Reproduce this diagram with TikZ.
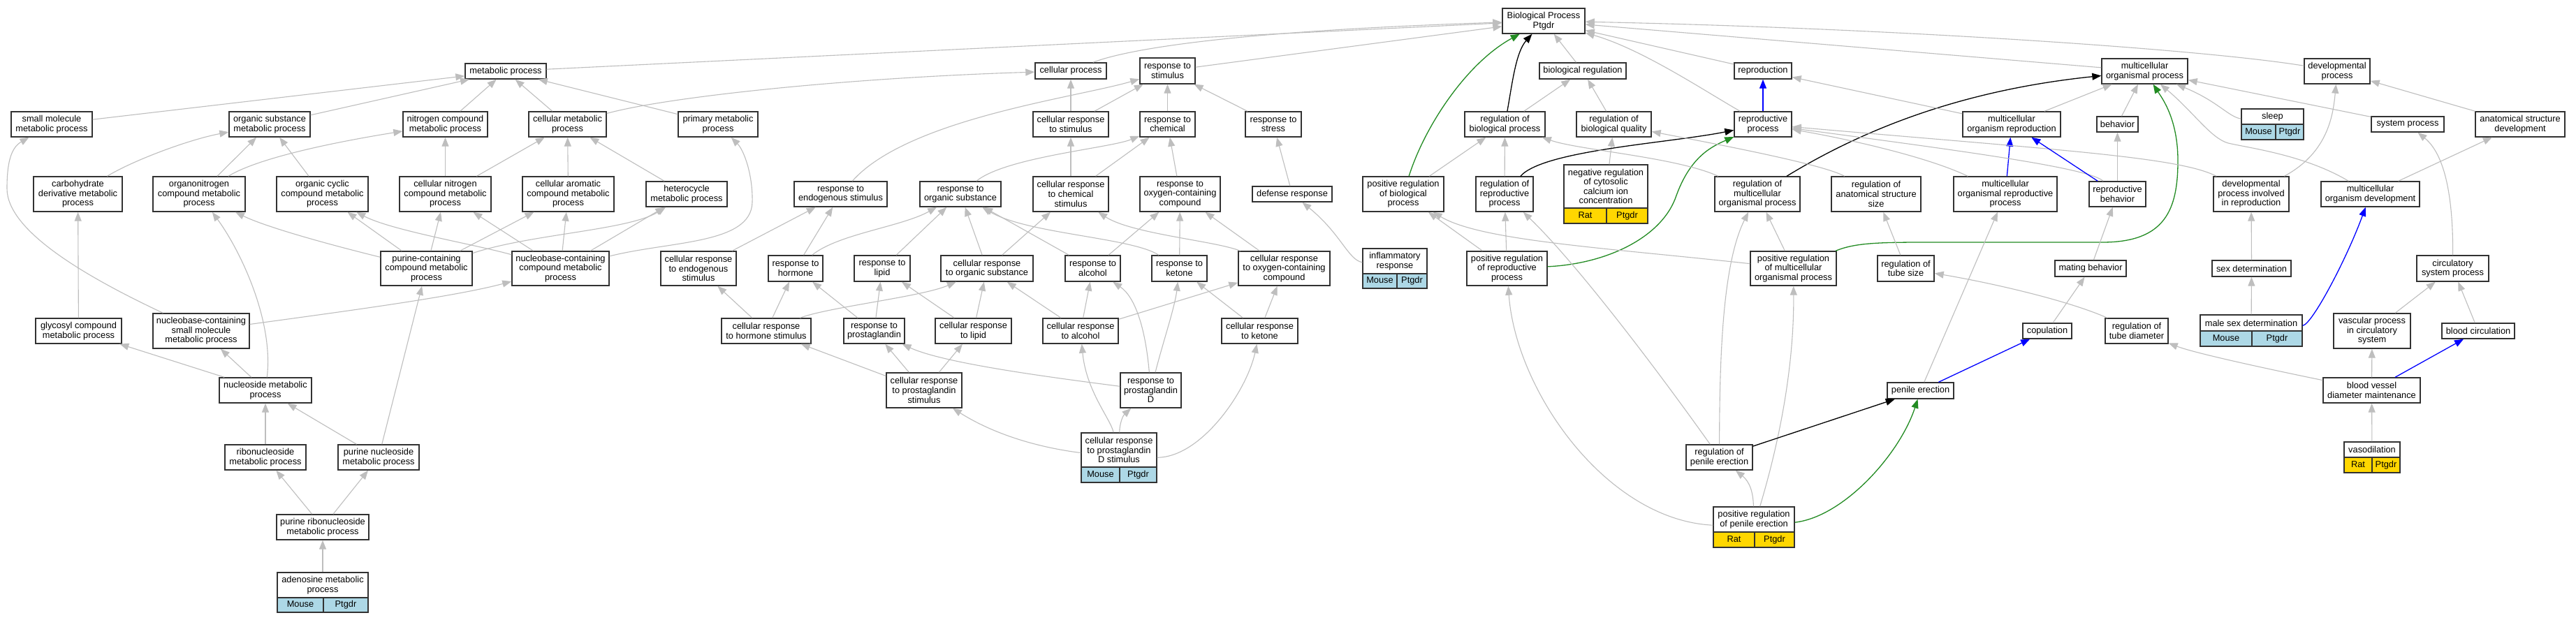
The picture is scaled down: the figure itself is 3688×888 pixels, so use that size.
\documentclass[tikz,border=0pt]{standalone}
\usepackage{fontspec}
\setmainfont{Liberation Sans}
\usetikzlibrary{arrows.meta}
\definecolor{edgec}{RGB}{190,190,190}
\definecolor{boxc}{RGB}{50,50,50}
\definecolor{greenc}{RGB}{34,139,34}
\definecolor{bluec}{RGB}{0,0,255}
\definecolor{Mouse}{RGB}{173,216,230}
\definecolor{Rat}{RGB}{255,215,0}
\newcommand{\lblfont}{\fontsize{12.8pt}{13.6pt}\selectfont}
\tikzset{
  box/.style={draw=boxc, line width=1.4pt, fill=white, inner sep=0pt, align=center, font=\lblfont},
  lbl/.style={inner sep=0pt, align=center, font=\lblfont},
  cell/.style={text height=9.2pt, text depth=2.8pt},
  divl/.style={draw=boxc, line width=1.4pt},
  e/.style={draw=edgec, line width=1.1pt, -{Triangle[length=13pt,width=10pt]}},
  eblk/.style={draw=black, line width=1.3pt, -{Triangle[length=13pt,width=10pt]}},
  egrn/.style={draw=greenc, line width=1.3pt, -{Triangle[length=13pt,width=10pt]}},
  eblu/.style={draw=bluec, line width=1.3pt, -{Triangle[length=13pt,width=10pt]}}
}
\newcommand{\gonode}[6]{%
  \pgfmathsetmacro\gow{#4-#2}\pgfmathsetmacro\goh{#5-#3}%
  \pgfmathsetmacro\gox{(#2+#4)/2}\pgfmathsetmacro\goy{(#3+#5)/2}%
  \node[box, minimum width=\gow pt, minimum height=\goh pt] (#1) at (\gox,\goy) {#6};}
\newcommand{\goann}[9]{%
  \pgfmathsetmacro\gow{#4-#2}\pgfmathsetmacro\goh{#5-#3}%
  \pgfmathsetmacro\gox{(#2+#4)/2}\pgfmathsetmacro\goy{(#3+#5)/2}%
  \pgfmathsetmacro\goty{(#3+#6)/2}\pgfmathsetmacro\gosy{(#6+#5)/2}%
  \pgfmathsetmacro\goax{(#2+#7)/2}\pgfmathsetmacro\gobx{(#7+#4)/2}%
  \fill[white] (#2,#3) rectangle (#4,#6);
  \fill[#9] (#2,#6) rectangle (#4,#5);
  \node[box, fill=none, minimum width=\gow pt, minimum height=\goh pt] (#1) at (\gox,\goy) {};
  \draw[divl] (#2,#6) -- (#4,#6) (#7,#6) -- (#7,#5);
  \node[lbl] (#1-t) at (\gox,\goty) {#8};
  \node[lbl, cell] (#1-s) at (\goax,\gosy) {#9};
  \node[lbl, cell] (#1-g) at (\gobx,\gosy) {Ptgdr};}
\begin{document}
\begin{tikzpicture}[x=1pt,y=-1pt]
\fill[white] (0,0) rectangle (3688,888);
\useasboundingbox (0,0) rectangle (3688,888);
% ---------- metabolic nodes
\gonode{mp}{666}{91}{782}{113}{metabolic process}
\gonode{smmp}{16}{160}{132}{196}{small molecule\\metabolic process}
\gonode{osmp}{328}{160}{444}{196}{organic substance\\metabolic process}
\gonode{ncmp}{577}{160}{698}{196}{nitrogen compound\\metabolic process}
\gonode{cmp}{757}{160}{868}{196}{cellular metabolic\\process}
\gonode{pmp}{971}{160}{1085}{196}{primary metabolic\\process}
\gonode{cdmp}{48}{253}{175}{303}{carbohydrate\\derivative metabolic\\process}
\gonode{oncmp}{219}{253}{351}{303}{organonitrogen\\compound metabolic\\process}
\gonode{occmp}{396}{253}{527}{303}{organic cyclic\\compound metabolic\\process}
\gonode{cncmp}{572}{253}{703}{303}{cellular nitrogen\\compound metabolic\\process}
\gonode{cacmp}{748}{253}{879}{303}{cellular aromatic\\compound metabolic\\process}
\gonode{hmp}{925}{260}{1041}{296}{heterocycle\\metabolic process}
\gonode{pccmp}{545}{360}{676}{409}{purine-containing\\compound metabolic\\process}
\gonode{nbccmp}{733}{360}{872}{409}{nucleobase-containing\\compound metabolic\\process}
\gonode{gcmp}{51}{456}{174}{492}{glycosyl compound\\metabolic process}
\gonode{nbsmmp}{219}{449}{357}{499}{nucleobase-containing\\small molecule\\metabolic process}
\gonode{nsmp}{314}{541}{446}{577}{nucleoside metabolic\\process}
\gonode{rnmp}{322}{637}{438}{673}{ribonucleoside\\metabolic process}
\gonode{pnmp}{484}{637}{600}{673}{purine nucleoside\\metabolic process}
\gonode{prnmp}{396}{737}{528}{773}{purine ribonucleoside\\metabolic process}
\goann{admp}{397}{820}{527}{877}{856}{463}{adenosine metabolic\\process}{Mouse}
% ---------- response nodes
\gonode{cp}{1482}{90}{1584}{113}{cellular process}
\gonode{rs}{1632}{83}{1711}{120}{response to\\stimulus}
\gonode{crs}{1479}{160}{1587}{196}{cellular response\\to stimulus}
\gonode{rc}{1632}{160}{1711}{196}{response to\\chemical}
\gonode{rst}{1783}{160}{1863}{196}{response to\\stress}
\gonode{crcs}{1479}{253}{1587}{303}{cellular response\\to chemical\\stimulus}
\gonode{roc}{1632}{253}{1747}{303}{response to\\oxygen-containing\\compound}
\gonode{dr}{1793}{267}{1907}{289}{defense response}
\gonode{res}{1137}{260}{1270}{296}{response to\\endogenous stimulus}
\gonode{ros}{1317}{260}{1433}{296}{response to\\organic substance}
\gonode{cres}{946}{360}{1054}{409}{cellular response\\to endogenous\\stimulus}
\gonode{rh}{1100}{366}{1178}{403}{response to\\hormone}
\gonode{rl}{1223}{366}{1303}{403}{response to\\lipid}
\gonode{cros}{1347}{366}{1479}{403}{cellular response\\to organic substance}
\gonode{ra}{1525}{366}{1604}{403}{response to\\alcohol}
\gonode{rk}{1649}{366}{1728}{403}{response to\\ketone}
\gonode{croc}{1773}{360}{1904}{409}{cellular response\\to oxygen-containing\\compound}
\goann{ir}{1951}{356}{2043}{413}{392}{2000}{inflammatory\\response}{Mouse}
\gonode{crhs}{1033}{456}{1161}{492}{cellular response\\to hormone stimulus}
\gonode{rp}{1208}{456}{1295}{492}{response to\\prostaglandin}
\gonode{crl}{1339}{456}{1448}{492}{cellular response\\to lipid}
\gonode{cra}{1493}{456}{1601}{492}{cellular response\\to alcohol}
\gonode{crk}{1749}{456}{1858}{492}{cellular response\\to ketone}
\gonode{crps}{1269}{534}{1377}{584}{cellular response\\to prostaglandin\\stimulus}
\gonode{rpd}{1604}{534}{1691}{584}{response to\\prostaglandin\\D}
\goann{crpds}{1548}{620}{1656}{691}{669}{1603}{cellular response\\to prostaglandin\\D stimulus}{Mouse}
% ---------- right nodes
\gonode{bp}{2151}{12}{2269}{48}{Biological Process\\Ptgdr}
\gonode{breg}{2204}{90}{2328}{113}{biological regulation}
\gonode{repro}{2483}{90}{2565}{113}{reproduction}
\gonode{rbp}{2097}{160}{2212}{196}{regulation of\\biological process}
\gonode{rbq}{2257}{160}{2364}{196}{regulation of\\biological quality}
\gonode{rproc}{2483}{160}{2565}{196}{reproductive\\process}
\gonode{mor}{2810}{160}{2950}{196}{multicellular\\organism reproduction}
\gonode{prbp}{1951}{253}{2067}{303}{positive regulation\\of biological\\process}
\gonode{rrp}{2113}{253}{2195}{303}{regulation of\\reproductive\\process}
\goann{nrcc}{2239}{236}{2359}{320}{298}{2300}{negative regulation\\of cytosolic\\calcium ion\\concentration}{Rat}
\gonode{rmop}{2455}{253}{2577}{303}{regulation of\\multicellular\\organismal process}
\gonode{rass}{2622}{253}{2750}{303}{regulation of\\anatomical structure\\size}
\gonode{morp}{2797}{253}{2945}{303}{multicellular\\organismal reproductive\\process}
\gonode{prrp}{2100}{360}{2215}{409}{positive regulation\\of reproductive\\process}
\gonode{prmop}{2506}{360}{2629}{409}{positive regulation\\of multicellular\\organismal process}
\gonode{rts}{2688}{366}{2769}{403}{regulation of\\tube size}
\gonode{pe}{2702}{548}{2797}{571}{penile erection}
\gonode{cop}{2896}{463}{2966}{485}{copulation}
\gonode{rpe}{2414}{637}{2509}{673}{regulation of\\penile erection}
\goann{prpe}{2453}{726}{2569}{784}{762}{2512}{positive regulation\\of penile erection}{Rat}
\gonode{mop}{3009}{84}{3132}{120}{multicellular\\organismal process}
\gonode{dp}{3299}{84}{3393}{120}{developmental\\process}
\gonode{beh}{3002}{167}{3061}{189}{behavior}
\goann{sleep}{3209}{156}{3298}{200}{178}{3258}{sleep}{Mouse}
\gonode{sp}{3395}{167}{3499}{189}{system process}
\gonode{asd}{3544}{160}{3672}{196}{anatomical structure\\development}
\gonode{rb}{2991}{260}{3072}{296}{reproductive\\behavior}
\gonode{dpir}{3169}{253}{3277}{303}{developmental\\process involved\\in reproduction}
\gonode{mod}{3323}{260}{3464}{296}{multicellular\\organism development}
\gonode{mb}{2942}{373}{3044}{396}{mating behavior}
\gonode{sd}{3167}{373}{3280}{396}{sex determination}
\gonode{csp}{3460}{366}{3563}{403}{circulatory\\system process}
\gonode{rtd}{3014}{456}{3104}{492}{regulation of\\tube diameter}
\goann{msd}{3150}{451}{3296}{496}{474}{3224}{male sex determination}{Mouse}
\gonode{vpcs}{3341}{449}{3451}{499}{vascular process\\in circulatory\\system}
\gonode{bc}{3496}{463}{3600}{485}{blood circulation}
\gonode{bvdm}{3326}{541}{3465}{577}{blood vessel\\diameter maintenance}
\goann{vaso}{3356}{633}{3436}{677}{655}{3396}{vasodilation}{Rat}
% ---------- metabolic edges
\draw[e] (smmp) -- (mp);
\draw[e] (osmp) -- (mp);
\draw[e] (ncmp) -- (mp);
\draw[e] (cmp) -- (mp);
\draw[e] (pmp) -- (mp);
\draw[e] (mp) -- (bp);
\draw[e] (cmp) .. controls (950,140) and (1200,112) .. (cp);
\draw[e] (cdmp) .. controls (190,230) and (270,200) .. (osmp);
\draw[e] (oncmp) -- (osmp);
\draw[e] (oncmp) .. controls (360,232) and (440,210) .. (ncmp);
\draw[e] (occmp) -- (osmp);
\draw[e] (cncmp) -- (ncmp);
\draw[e] (cncmp) -- (cmp);
\draw[e] (cacmp) -- (cmp);
\draw[e] (hmp) -- (cmp);
\draw[e] (pccmp) .. controls (470,350) and (380,325) .. (oncmp);
\draw[e] (pccmp) -- (occmp);
\draw[e] (pccmp) -- (cncmp);
\draw[e] (pccmp) -- (cacmp);
\draw[e] (pccmp) .. controls (760,335) and (900,330) .. (hmp);
\draw[e] (nbccmp) -- (cncmp);
\draw[e] (nbccmp) .. controls (680,350) and (560,330) .. (occmp);
\draw[e] (nbccmp) -- (cacmp);
\draw[e] (nbccmp) -- (hmp);
\draw[e] (nbccmp) .. controls (960,345) and (1075,350) .. (1077,290) .. controls (1078,250) and (1065,215) .. (pmp);
\draw[e] (nbsmmp) .. controls (500,445) and (650,425) .. (nbccmp);
\draw[e] (nsmp) .. controls (392,460) and (345,360) .. (oncmp);
\draw[e] (gcmp) -- (cdmp);
\draw[e] (nbsmmp) .. controls (120,395) and (10,330) .. (10,270) .. controls (10,235) and (15,212) .. (smmp);
\draw[e] (nsmp) -- (gcmp);
\draw[e] (nsmp) -- (nbsmmp);
\draw[e] (rnmp) -- (nsmp);
\draw[e] (pnmp) -- (nsmp);
\draw[e] (pnmp) -- (pccmp);
\draw[e] (prnmp) -- (rnmp);
\draw[e] (prnmp) -- (pnmp);
\draw[e] (admp) -- (prnmp);
% ---------- response edges
\draw[e] (cp) .. controls (1610,72) and (1750,45) .. (bp);
\draw[e] (rs) -- (bp);
\draw[e] (crs) -- (cp);
\draw[e] (crs) -- (rs);
\draw[e] (rc) -- (rs);
\draw[e] (rst) -- (rs);
\draw[e] (res) .. controls (1300,170) and (1540,140) .. (rs);
\draw[e] (ros) .. controls (1440,225) and (1590,212) .. (rc);
\draw[e] (crcs) -- (crs);
\draw[e] (crcs) -- (rc);
\draw[e] (roc) -- (rc);
\draw[e] (dr) -- (rst);
\draw[e] (ir) .. controls (1930,372) and (1920,335) .. (dr);
\draw[e] (cres) -- (res);
\draw[e] (rh) -- (res);
\draw[e] (rh) .. controls (1200,335) and (1290,325) .. (ros);
\draw[e] (rl) -- (ros);
\draw[e] (cros) -- (ros);
\draw[e] (cros) -- (crcs);
\draw[e] (ra) -- (ros);
\draw[e] (rk) .. controls (1620,340) and (1470,335) .. (ros);
\draw[e] (ra) -- (roc);
\draw[e] (rk) -- (roc);
\draw[e] (croc) -- (roc);
\draw[e] (croc) .. controls (1740,345) and (1620,335) .. (crcs);
\draw[e] (crhs) -- (cres);
\draw[e] (crhs) -- (rh);
\draw[e] (crhs) .. controls (1185,440) and (1320,425) .. (cros);
\draw[e] (rp) -- (rh);
\draw[e] (rp) -- (rl);
\draw[e] (crl) -- (rl);
\draw[e] (crl) -- (cros);
\draw[e] (cra) -- (cros);
\draw[e] (cra) -- (ra);
\draw[e] (cra) -- (croc);
\draw[e] (rpd) .. controls (1640,470) and (1625,425) .. (ra);
\draw[e] (rpd) .. controls (1665,490) and (1682,440) .. (rk);
\draw[e] (rpd) .. controls (1500,540) and (1350,520) .. (rp);
\draw[e] (crk) -- (rk);
\draw[e] (crk) -- (croc);
\draw[e] (crps) -- (crhs);
\draw[e] (crps) -- (rp);
\draw[e] (crps) -- (crl);
\draw[e] (crpds) .. controls (1603,605) and (1608,595) .. (rpd);
\draw[e] (crpds) .. controls (1590,600) and (1555,560) .. (cra);
\draw[e] (crpds) .. controls (1480,640) and (1420,620) .. (crps);
\draw[e] (crpds) .. controls (1720,655) and (1785,560) .. (crk);
% ---------- right edges
\draw[eblk] (rbp) .. controls (2165,120) and (2170,75) .. (bp);
\draw[egrn] (prbp) .. controls (2040,180) and (2100,90) .. (bp);
\draw[e] (prbp) -- (rbp);
\draw[e] (rbp) -- (breg);
\draw[e] (breg) -- (bp);
\draw[e] (rbq) -- (breg);
\draw[e] (nrcc) -- (rbq);
\draw[e] (rrp) -- (rbp);
\draw[eblk] (rrp) .. controls (2210,215) and (2390,205) .. (rproc);
\draw[e] (prrp) -- (rrp);
\draw[e] (prrp) -- (prbp);
\draw[egrn] (prrp) .. controls (2300,378) and (2380,340) .. (2400,280) .. controls (2420,225) and (2450,210) .. (rproc);
\draw[e] (rmop) .. controls (2400,225) and (2260,215) .. (rbp);
\draw[e] (prmop) -- (rmop);
\draw[e] (prmop) .. controls (2300,355) and (2120,345) .. (prbp);
\draw[egrn] (prmop) .. controls (2660,346) and (2700,347) .. (2800,347) -- (3010,347) .. controls (3100,347) and (3118,300) .. (3118,230) .. controls (3118,170) and (3095,140) .. (mop);
\draw[e] (rpe) .. controls (2380,540) and (2260,380) .. (rrp);
\draw[e] (rpe) .. controls (2462,520) and (2465,380) .. (rmop);
\draw[e] (prpe) .. controls (2510,705) and (2505,690) .. (rpe);
\draw[e] (prpe) .. controls (2530,690) and (2569,560) .. (prmop);
\draw[e] (prpe) .. controls (2300,745) and (2170,560) .. (prrp);
\draw[egrn] (prpe) .. controls (2640,740) and (2720,650) .. (pe);
\draw[eblk] (rpe) -- (pe);
\draw[eblu] (pe) -- (cop);
\draw[e] (pe) -- (morp);
\draw[eblk] (rmop) .. controls (2660,190) and (2800,130) .. (mop);
\draw[e] (rass) .. controls (2610,235) and (2450,205) .. (rbq);
\draw[e] (rts) -- (rass);
\draw[e] (rtd) .. controls (2960,430) and (2850,405) .. (rts);
\draw[e] (bvdm) .. controls (3230,525) and (3140,505) .. (rtd);
\draw[eblu] (rproc) -- (repro);
\draw[e] (rproc) .. controls (2440,130) and (2350,70) .. (bp);
\draw[e] (repro) -- (bp);
\draw[e] (mor) -- (repro);
\draw[e] (mor) -- (mop);
\draw[eblu] (morp) -- (mor);
\draw[e] (morp) .. controls (2760,225) and (2650,200) .. (rproc);
\draw[e] (dpir) .. controls (3120,225) and (2950,215) .. (rproc);
\draw[e] (rb) .. controls (2990,240) and (2800,215) .. (rproc);
\draw[eblu] (rb) -- (mor);
\draw[e] (rb) -- (beh);
\draw[e] (mb) -- (rb);
\draw[e] (cop) -- (mb);
\draw[e] (beh) -- (mop);
\draw[e] (sleep) .. controls (3190,167) and (3175,145) .. (mop);
\draw[e] (mod) .. controls (3300,222) and (3220,212) .. (3190,205) .. controls (3165,198) and (3140,160) .. (mop);
\draw[e] (mod) -- (asd);
\draw[e] (asd) -- (dp);
\draw[e] (dpir) .. controls (3330,220) and (3340,170) .. (dp);
\draw[e] (sd) -- (dpir);
\draw[e] (msd) -- (sd);
\draw[eblu] (msd) .. controls (3310,465) and (3360,370) .. (mod);
\draw[e] (sp) -- (mop);
\draw[e] (csp) .. controls (3512,300) and (3505,225) .. (sp);
\draw[e] (vpcs) -- (csp);
\draw[e] (bc) -- (csp);
\draw[e] (bvdm) -- (vpcs);
\draw[eblu] (bvdm) -- (bc);
\draw[e] (vaso) -- (bvdm);
\draw[e] (mop) -- (bp);
\draw[e] (dp) .. controls (3150,70) and (2700,40) .. (bp);
\end{tikzpicture}
\end{document}
